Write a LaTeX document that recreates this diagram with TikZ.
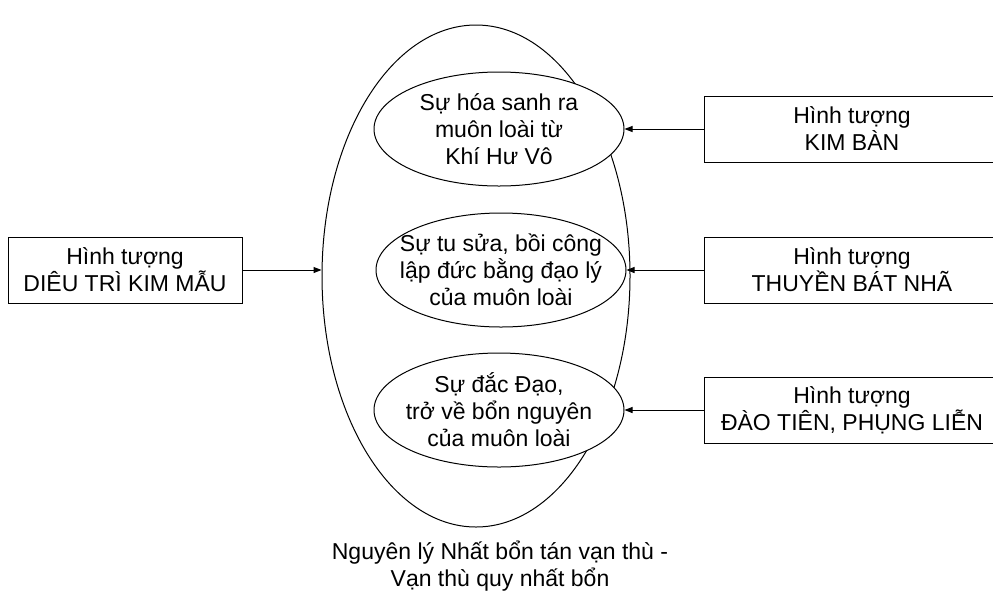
\documentclass[tikz,border=0pt]{standalone}
\usepackage{fontspec}
\setmainfont{Liberation Sans}
\usetikzlibrary{shapes.geometric,arrows.meta}
\tikzset{
  hinhbox/.style={draw, line width=1pt, minimum height=66pt, inner sep=0pt, align=center, font=\fontsize{23}{27}\selectfont},
  idea/.style={draw, ellipse, fill=white, line width=1pt, minimum width=250pt, minimum height=114pt, inner xsep=-16pt, inner ysep=0pt, align=center, font=\fontsize{23}{27}\selectfont},
  arr/.style={line width=1pt, -{Triangle[length=8pt,width=6pt]}}
}

\begin{document}
\begin{tikzpicture}[x=1pt,y=-1pt]
\useasboundingbox (0,0) rectangle (993,590);
% big ellipse
\node[draw, ellipse, line width=1pt, minimum width=308pt, minimum height=502pt] (main) at (476,276) {};
\node[font=\fontsize{23}{27}\selectfont, align=center, inner sep=0pt] (nguyenly) at (500,566) {Nguyên lý Nhất bổn tán vạn thù -\\Vạn thù quy nhất bổn};
% three ideas
\node[idea] (hoasanh) at (499,129) {Sự hóa sanh ra\\muôn loài từ\\Khí Hư Vô};
\node[idea] (tusua) at (501,270) {Sự tu sửa, bồi công\\lập đức bằng đạo lý\\của muôn loài};
\node[idea] (dacdao) at (499,410) {Sự đắc Đạo,\\trở về bổn nguyên\\của muôn loài};
% boxes
\node[hinhbox, minimum width=234pt] (dieutri) at (125,270) {Hình tượng\\DIÊU TRÌ KIM MẪU};
\node[hinhbox, minimum width=296pt] (kimban) at (852,129) {Hình tượng\\KIM BÀN};
\node[hinhbox, minimum width=296pt] (thuyen) at (852,270) {Hình tượng\\THUYỀN BÁT NHÃ};
\node[hinhbox, minimum width=296pt] (daotien) at (852,410) {Hình tượng\\ĐÀO TIÊN, PHỤNG LIỄN};
% arrows
\draw[arr] (dieutri.east) -- (dieutri.east -| main.west);
\draw[arr] (kimban.west) -- (hoasanh.east);
\draw[arr] (thuyen.west) -- (tusua.east);
\draw[arr] (daotien.west) -- (dacdao.east);
\end{tikzpicture}
\end{document}
